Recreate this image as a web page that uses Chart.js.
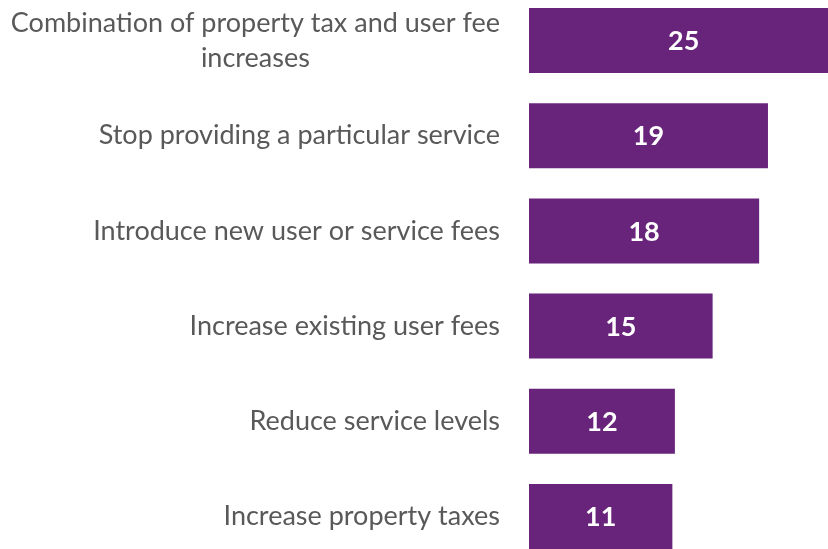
<!DOCTYPE html>
<html>
<head>
<meta charset="utf-8">
<script src="https://cdn.jsdelivr.net/npm/chart.js@4"></script>
<style>
  html, body { margin: 0; padding: 0; background: #fff; overflow: hidden; width: 828px; height: 549px; }
  #wrap { position: absolute; left: 0; top: -7px; width: 856px; height: 571px; }
</style>
</head>
<body>
<div id="wrap"><canvas id="barChart"></canvas></div>
<script>
// categories, top to bottom
const categories = [
  ["Combination of property tax and user fee", "increases"],
  "Stop providing a particular service",
  "Introduce new user or service fees",
  "Increase existing user fees",
  "Reduce service levels",
  "Increase property taxes",
];
// bar lengths (labels show them rounded)
const values = [24.6, 19.0, 18.3, 14.6, 11.6, 11.4];
const valueLabels = ["25", "19", "18", "15", "12", "11"];

const purple = "#68237a";
const grey = "#595959";

// draws the category text (right aligned, multi-line centred) and the values in the bars
const labelPlugin = {
  id: "labelPlugin",
  afterDatasetsDraw(chart) {
    const ctx = chart.ctx;
    const yScale = chart.scales.y;
    const meta = chart.getDatasetMeta(0);
    ctx.save();
    // category labels
    ctx.font = "27px Lato";
    ctx.fillStyle = grey;
    ctx.textAlign = "center";
    ctx.textBaseline = "middle";
    const right = yScale.right - 29;
    const lineH = 35;
    categories.forEach((cat, i) => {
      const lines = Array.isArray(cat) ? cat : [cat];
      const w = Math.max(...lines.map((l) => ctx.measureText(l).width));
      const cx = right - w / 2;
      const cy = yScale.getPixelForValue(i);
      lines.forEach((l, k) => {
        ctx.fillText(l, cx, cy + (k - (lines.length - 1) / 2) * lineH);
      });
    });
    // values
    ctx.font = "bold 27px Lato";
    ctx.fillStyle = "#ffffff";
    meta.data.forEach((bar, i) => {
      ctx.fillText(valueLabels[i], (bar.x + bar.base) / 2, bar.y + 1);
    });
    ctx.restore();
  },
};

let ctx = document.getElementById("barChart").getContext("2d");
let myBarChart = new Chart(ctx, {
  type: "bar",
  data: {
    labels: categories,
    datasets: [
      {
        data: values,
        backgroundColor: purple,
        borderWidth: 0,
        barPercentage: 0.683,
        categoryPercentage: 1,
      },
    ],
  },
  options: {
    indexAxis: "y",
    animation: false,
    responsive: true,
    maintainAspectRatio: false,
    layout: { padding: 0 },
    plugins: {
      legend: { display: false },
      tooltip: { enabled: false },
      title: { display: false },
    },
    scales: {
      x: {
        display: false,
        min: 0,
        max: 26,
      },
      y: {
        grid: { display: false },
        border: { display: false },
        ticks: { display: false },
        afterFit(scale) {
          scale.width = 529;
        },
      },
    },
  },
  plugins: [labelPlugin],
});
</script>
</body>
</html>
